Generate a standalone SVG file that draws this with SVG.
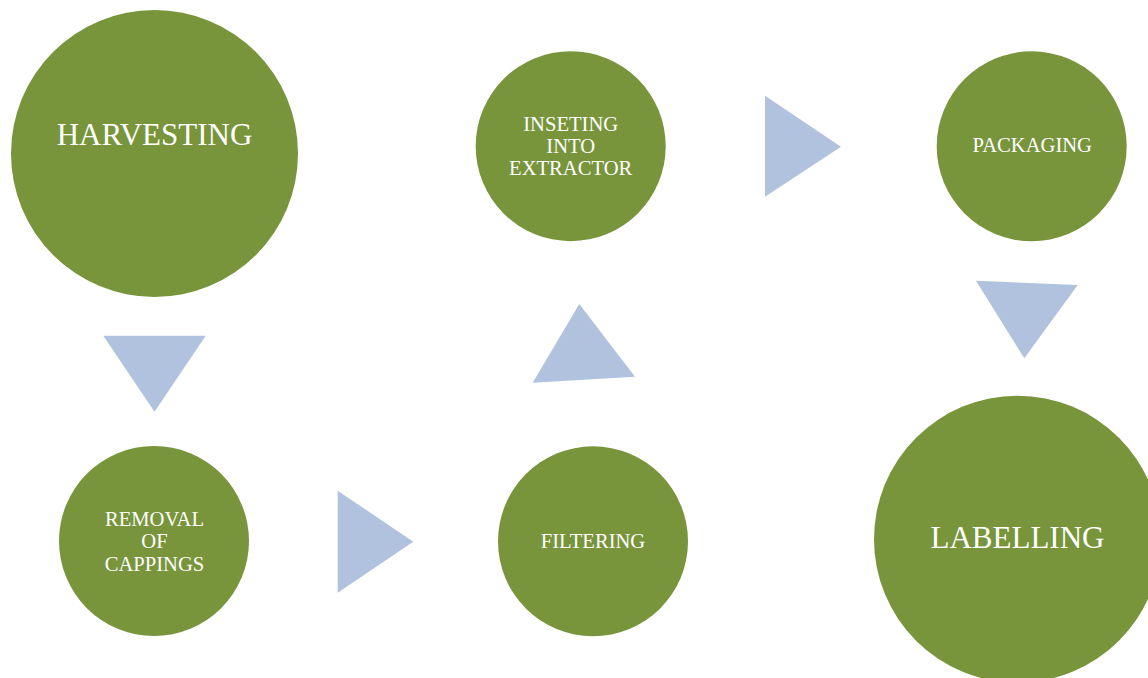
<svg xmlns="http://www.w3.org/2000/svg" width="1148" height="678" viewBox="0 0 1148 678">
<style>
.node{fill:#78953C}
.lbl{fill:#FFFFFF;font-family:"Liberation Serif","Times New Roman",serif;text-anchor:middle}
.big{font-size:31px}
.sm{font-size:20.6px}
.arr{fill:#B0C2DD}
</style>
<rect width="1148" height="678" fill="#FFFFFF"/>
<g id="connectors">
<polygon class="arr" points="103.3,335.7 205.7,335.7 154.5,411.7"/>
<polygon class="arr" points="337.7,490.7 413.3,541.7 337.7,592.7"/>
<polygon class="arr" points="532.7,382.7 579.3,304 635,376.7"/>
<polygon class="arr" points="765,95.7 841,146.7 765,196.7"/>
<polygon class="arr" points="976,280.7 1077.7,285 1024.3,358.3"/>
</g>
<g id="harvesting">
<circle class="node" cx="154.5" cy="153.5" r="143.5"/>
<text class="lbl big" x="154.5" y="145">HARVESTING</text>
</g>
<g id="removal">
<circle class="node" cx="154" cy="541" r="95"/>
<text class="lbl sm" x="154.5" y="525.7">REMOVAL</text>
<text class="lbl sm" x="154.5" y="548.3">OF</text>
<text class="lbl sm" x="154.5" y="570.7">CAPPINGS</text>
</g>
<g id="filtering">
<circle class="node" cx="593" cy="541.3" r="95"/>
<text class="lbl sm" x="593" y="547.7">FILTERING</text>
</g>
<g id="inseting">
<circle class="node" cx="570.7" cy="146.2" r="95"/>
<text class="lbl sm" x="570.7" y="130.7">INSETING</text>
<text class="lbl sm" x="570.7" y="153.3">INTO</text>
<text class="lbl sm" x="570.7" y="175">EXTRACTOR</text>
</g>
<g id="packaging">
<circle class="node" cx="1031.7" cy="146.3" r="95"/>
<text class="lbl sm" x="1032.3" y="151.7">PACKAGING</text>
</g>
<g id="labelling">
<circle class="node" cx="1017.5" cy="539.2" r="143.5"/>
<text class="lbl big" x="1017.5" y="548.3">LABELLING</text>
</g>
</svg>
